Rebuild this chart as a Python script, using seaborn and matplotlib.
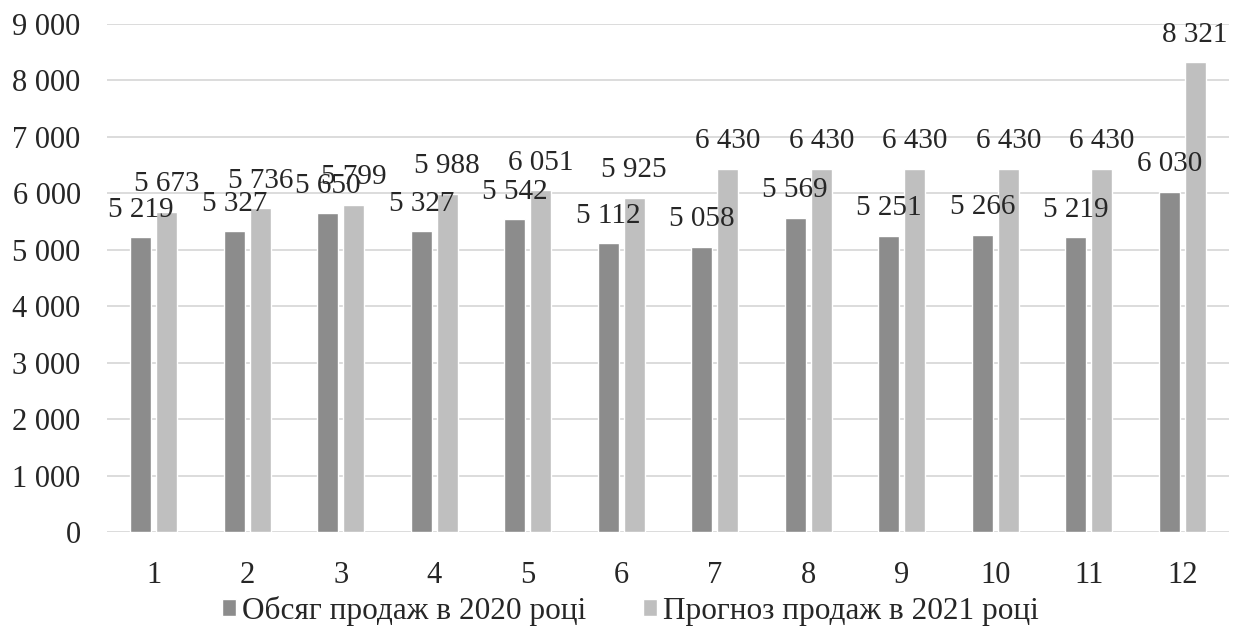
import matplotlib
matplotlib.use("Agg")
import matplotlib.pyplot as plt
from matplotlib import font_manager
import seaborn as sns
import pandas as pd

# Monthly sales volume: actual 2020 vs forecast 2021
months = [1, 2, 3, 4, 5, 6, 7, 8, 9, 10, 11, 12]
sales_2020 = [5219, 5327, 5650, 5327, 5542, 5112, 5058, 5569, 5251, 5266, 5219, 6030]
forecast_2021 = [5673, 5736, 5799, 5988, 6051, 5925, 6430, 6430, 6430, 6430, 6430, 8321]
series_names = ["Обсяг продаж в 2020 році", "Прогноз продаж в 2021 році"]
y_ticks = [0, 1000, 2000, 3000, 4000, 5000, 6000, 7000, 8000, 9000]

df = pd.DataFrame({
    "month": months * 2,
    "value": sales_2020 + forecast_2021,
    "series": [series_names[0]] * 12 + [series_names[1]] * 12,
})

sns.set_theme(style="white")

# Register a Times-like serif face explicitly
serif_name = "DejaVu Serif"
for path in font_manager.findSystemFonts():
    if "LiberationSerif-Regular" in path:
        font_manager.fontManager.addfont(path)
        serif_name = font_manager.FontProperties(fname=path).get_name()
        break
plt.rcParams["font.family"] = [serif_name, "DejaVu Serif"]
plt.rcParams["font.size"] = 21

TEXT = "#262626"


def space_thousands(v):
    return f"{v:,.0f}".replace(",", " ")


fig = plt.figure(figsize=(12.43, 6.43), dpi=100)
ax = fig.add_axes([0.0861, 0.1726, 0.9026, 0.7901])

sns.barplot(
    data=df, x="month", y="value", hue="series",
    palette=["#8c8c8c", "#bfbfbf"], width=0.557, gap=0.2,
    saturation=1, ax=ax, zorder=2,
)

ax.set_ylim(0, 9000)
ax.set_xlim(-0.5, 11.5)
ax.set_yticks(y_ticks)
ax.set_yticklabels([space_thousands(v) for v in y_ticks])
ax.yaxis.grid(True, color="#d9d9d9", linewidth=1.3, zorder=0)
ax.set_axisbelow(True)
for s in ax.spines.values():
    s.set_visible(False)
ax.tick_params(axis="both", length=0, labelsize=22, colors=TEXT)
ax.tick_params(axis="x", pad=21)
ax.tick_params(axis="y", pad=19)
ax.set_xlabel("")
ax.set_ylabel("")

for cont in ax.containers:
    ax.bar_label(cont, labels=[space_thousands(v) for v in cont.datavalues],
                 padding=10.5, fontsize=21, color=TEXT)

handles, labels = ax.get_legend_handles_labels()
ax.get_legend().remove()
fig.legend(handles, labels, loc="center", bbox_to_anchor=(0.507, 0.05),
           ncol=2, frameon=False, fontsize=22.5, handlelength=0.45,
           handleheight=0.45, handletextpad=0.2, columnspacing=1.8,
           labelcolor=TEXT)

fig.savefig("out.png", dpi=100)
